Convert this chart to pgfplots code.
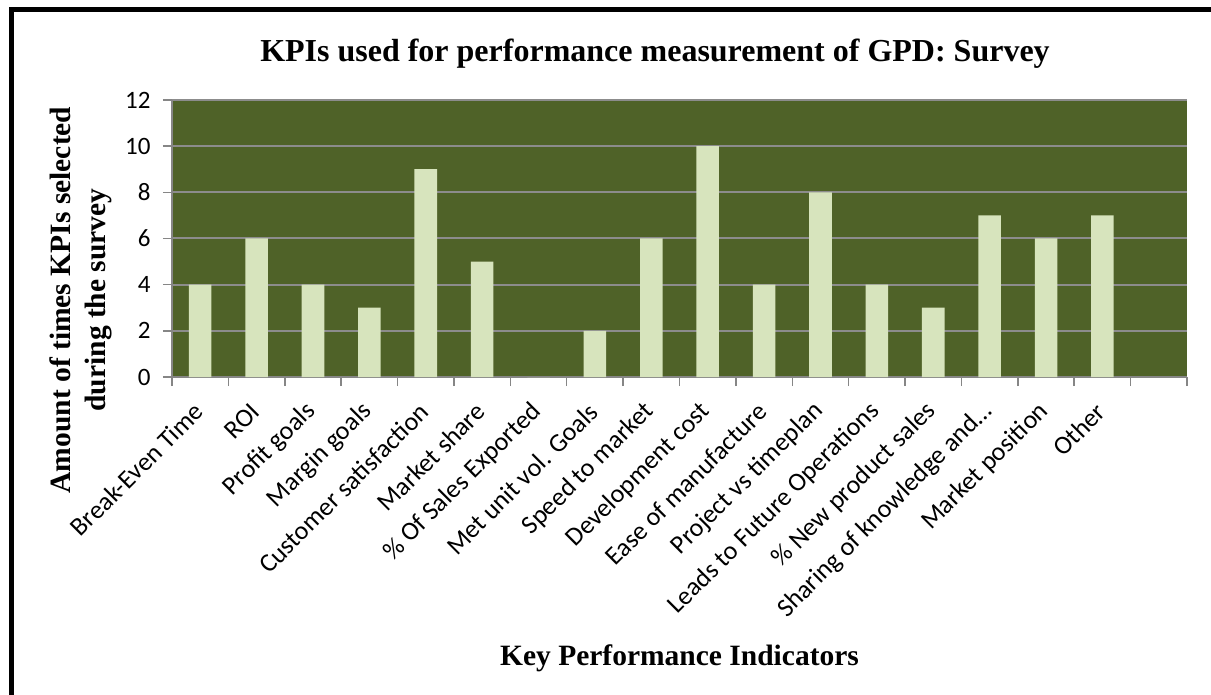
\documentclass[border=0pt]{standalone}
\usepackage{pgfplots}
\pgfplotsset{compat=1.18}
\usepackage{fontspec}
\setmainfont{Liberation Serif}
\newfontfamily\calibri{Carlito}
\definecolor{plotgreen}{HTML}{4F6228}
\definecolor{barfill}{HTML}{D7E4BD}
\definecolor{gridgray}{HTML}{8C8C8C}
\definecolor{axisgray}{HTML}{868686}
\begin{document}
\begin{tikzpicture}[x=1pt,y=1pt]
\useasboundingbox (0,0) rectangle (1211,694);
\draw[line width=4.5pt] (11.5,-10) -- (11.5,684.5) -- (1230,684.5);
\node[anchor=base, font=\bfseries\fontsize{32}{37}\selectfont] at (655,632) {KPIs used for performance measurement of GPD: Survey};
\node[anchor=base, font=\bfseries\fontsize{29.5}{35}\selectfont] at (679.5,28) {Key Performance Indicators};
\node[rotate=90, align=center, font=\bfseries\fontsize{29.5}{35}\selectfont] at (81,394) {Amount of times KPIs selected\\during the survey};
\begin{axis}[
  at={(172pt,317pt)}, anchor=south west,
  scale only axis, width=1015pt, height=277pt,
  xmin=-0.5, xmax=17.5, ymin=0, ymax=12,
  ytick={0,2,...,12},
  xtick={0,...,16},
  xticklabels={Break-Even Time, ROI, Profit goals, Margin goals, Customer satisfaction, Market share, \% Of Sales Exported, Met unit vol. Goals, Speed to market, Development cost, Ease of manufacture, Project vs timeplan, Leads to Future Operations, \% New product sales, Sharing of knowledge and\dots, Market position, Other},
  minor xtick={-0.5,0.5,...,17.5},
  major x tick style={draw=none},
  axis x line*=bottom, axis y line*=left,
  axis line style={-, draw=axisgray, line width=1.5pt},
  axis background/.style={fill=plotgreen},
  ymajorgrids, grid style={gridgray, line width=2pt},
  tick align=outside,
  major tick length=9pt, minor tick length=9pt,
  every tick/.style={axisgray, line width=1.5pt},
  /pgf/number format/assume math mode=true,
  ticklabel style={font=\calibri\fontsize{25}{30}\selectfont},
  y tick label style={xshift=-9pt},
  x tick label style={font=\calibri\fontsize{26}{31}\selectfont, xshift=1pt, yshift=-19pt, rotate=45, anchor=east},
  ybar, bar width=0.4,
]
\addplot[fill=barfill, draw=none] coordinates {
(0,4) (1,6) (2,4) (3,3) (4,9) (5,5) (6,0) (7,2) (8,6) (9,10) (10,4) (11,8) (12,4) (13,3) (14,7) (15,6) (16,7)};
\end{axis}
\end{tikzpicture}
\end{document}
